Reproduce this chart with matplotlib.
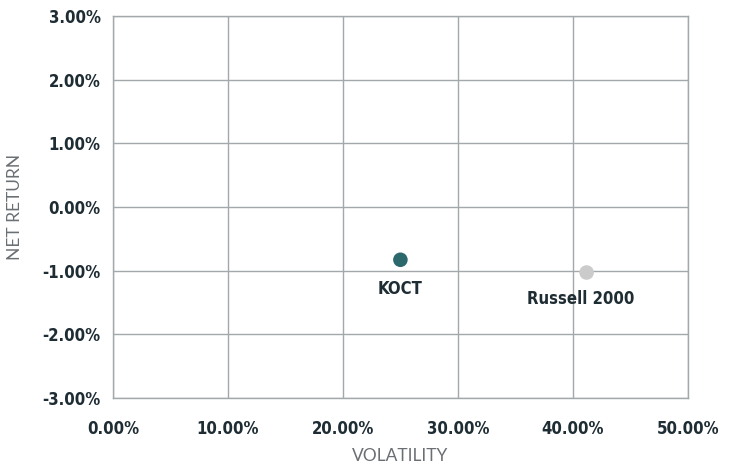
import matplotlib

matplotlib.use("Agg")
import matplotlib.pyplot as plt
from matplotlib.ticker import FuncFormatter

# values (percent)
names = ["KOCT", "Russell 2000"]
volatility = [25.0, 41.2]
net_return = [-0.83, -1.03]
point_colors = ["#2b696c", "#cbcbcb"]

x_ticks = [0, 10, 20, 30, 40, 50]
y_ticks = [-3, -2, -1, 0, 1, 2, 3]

BOLD_FONT = ["DejaVu Sans"]
TEXT_DARK = "#1e2c33"
GRID = "#a3a8ab"

fig = plt.figure(figsize=(7.34, 4.66), dpi=100)
ax = fig.add_axes([0.154, 0.146, 0.783, 0.820])

ax.scatter(volatility, net_return, s=110, c=point_colors, zorder=3, linewidths=0)
label_offsets = [(0, -21), (-4, -19)]
for name, xv, yv, off in zip(names, volatility, net_return, label_offsets):
    ax.annotate(name, (xv, yv), xytext=off, textcoords="offset points",
                ha="center", va="center", fontsize=12, fontweight="bold",
                family=BOLD_FONT, fontstretch="condensed", color=TEXT_DARK)

ax.set_xlim(0, 50)
ax.set_ylim(-3, 3)
ax.set_xticks(x_ticks)
ax.set_yticks(y_ticks)
ax.xaxis.set_major_formatter(FuncFormatter(lambda v, _: f"{v:.2f}%"))
ax.yaxis.set_major_formatter(FuncFormatter(lambda v, _: f"{v:.2f}%"))
ax.grid(True, color=GRID, linewidth=1)
ax.set_axisbelow(True)
for side in ax.spines.values():
    side.set_color(GRID)
    side.set_linewidth(1)
ax.tick_params(length=0, pad=9)
for lbl in ax.get_xticklabels() + ax.get_yticklabels():
    lbl.set_family(BOLD_FONT)
    lbl.set_fontstretch("condensed")
    lbl.set_fontweight("bold")
    lbl.set_fontsize(12)
    lbl.set_color(TEXT_DARK)
ax.tick_params(axis="x", pad=16)

ax.set_xlabel("VOLATILITY", family=["Lato", "DejaVu Sans"], fontweight="normal",
              fontsize=12.5, color="#6a6f73", labelpad=7)
ax.set_ylabel("NET RETURN", family=["Lato", "DejaVu Sans"], fontweight="normal",
              fontsize=12.5, color="#6a6f73", labelpad=14)

fig.savefig("out.png", dpi=100)
